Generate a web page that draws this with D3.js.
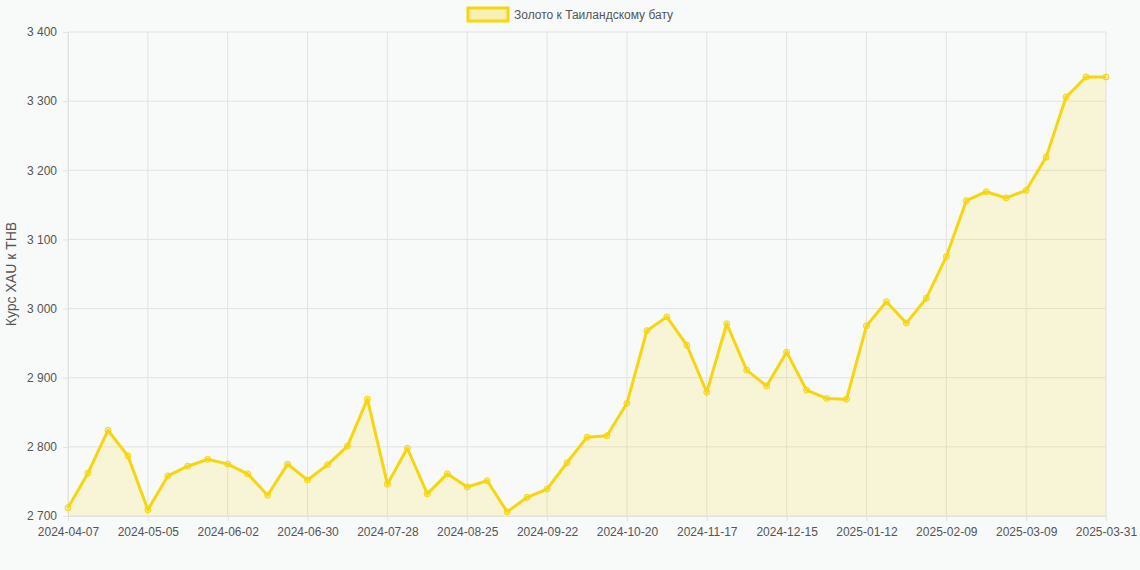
<!DOCTYPE html>
<html><head><meta charset="utf-8">
<script src="https://cdn.jsdelivr.net/npm/d3@7"></script>
<style>body{margin:0;background:#f8f9f9;font-family:"Liberation Sans",Arial,sans-serif}</style>
</head><body><svg width="1140" height="570"></svg>
<script>
// weekly dates (last point is 2025-03-31)
var dates = [];
var d0 = new Date(Date.UTC(2024, 3, 7));
for (var i = 0; i < 52; i++) dates.push(d3.utcFormat("%Y-%m-%d")(d3.utcDay.offset(d0, i * 7)));
dates.push("2025-03-31");

var values = [2712, 2762, 2824, 2787, 2709, 2758, 2772, 2782, 2775, 2761,
  2730, 2775, 2752, 2774, 2801, 2869, 2746, 2798, 2732, 2761,
  2742, 2751, 2706, 2727, 2739, 2777, 2814, 2816, 2863, 2968,
  2988, 2947, 2879, 2978, 2911, 2888, 2937, 2882, 2870, 2869,
  2975, 3010, 2979, 3015, 3075, 3156, 3169, 3160, 3171, 3219,
  3306, 3335, 3335];
var yTicks = [2700, 2800, 2900, 3000, 3100, 3200, 3300, 3400];
var seriesName = "Золото к Таиландскому бату";
var yTitle = "Курс XAU к THB";

var svg = d3.select("svg"),
    margin = {top: 32, right: 34, bottom: 54, left: 68},
    width = 1140 - margin.left - margin.right,
    height = 570 - margin.top - margin.bottom;

var x = d3.scalePoint().domain(dates).range([0, width]);
var y = d3.scaleLinear().domain([2700, 3400]).range([height, 0]);
var fmt = function(v) { return d3.format(",")(v).replace(",", " "); };

var g = svg.append("g").attr("transform", "translate(" + margin.left + "," + margin.top + ")");

var tickDates = dates.filter(function(d, i) { return i % 4 == 0 || i == dates.length - 1; });

// grid
g.append("g").selectAll("line").data(yTicks).enter().append("line")
  .attr("x1", 0).attr("x2", width).attr("y1", y).attr("y2", y)
  .attr("stroke", "#e2e2e2");
g.append("g").selectAll("line").data(tickDates).enter().append("line")
  .attr("y1", 0).attr("y2", height).attr("x1", x).attr("x2", x)
  .attr("stroke", "#e2e2e2");

var xAxis = g.append("g").attr("transform", "translate(0," + height + ")")
  .call(d3.axisBottom(x).tickValues(tickDates).tickSize(5).tickPadding(6));
var yAxis = g.append("g")
  .call(d3.axisLeft(y).tickValues(yTicks).tickFormat(fmt).tickSize(5).tickPadding(6));
[xAxis, yAxis].forEach(function(a) {
  a.select(".domain").attr("stroke", "#e2e2e2");
  a.selectAll(".tick line").attr("stroke", "#e2e2e2");
  a.selectAll("text").attr("fill", "#555").style("font-size", "12px")
   .style("font-family", "Liberation Sans, Arial, sans-serif");
});

var area = d3.area().x(function(d, i) { return x(dates[i]); })
  .y0(height).y1(function(d) { return y(d); });
var line = d3.line().x(function(d, i) { return x(dates[i]); })
  .y(function(d) { return y(d); });

g.append("path").datum(values).attr("d", area).attr("fill", "rgba(245,214,15,0.15)");
g.append("path").datum(values).attr("d", line).attr("fill", "none")
  .attr("stroke", "#f5d60f").attr("stroke-width", 3).attr("stroke-linejoin", "round");
g.selectAll(".pt").data(values).enter().append("circle")
  .attr("cx", function(d, i) { return x(dates[i]); }).attr("cy", y)
  .attr("r", 3).attr("fill", "rgba(245,214,15,0.3)").attr("stroke", "#f5d60f").attr("stroke-width", 1);

svg.append("text").attr("transform", "translate(16," + (margin.top + height / 2) + ") rotate(-90)")
  .attr("text-anchor", "middle").attr("fill", "#555").style("font-size", "14px").text(yTitle);

svg.append("rect").attr("x", 468).attr("y", 8).attr("width", 40).attr("height", 13)
  .attr("fill", "rgba(245,214,15,0.3)").attr("stroke", "#f5d60f").attr("stroke-width", 3);
svg.append("text").attr("x", 514).attr("y", 19).attr("fill", "#555").style("font-size", "12px").text(seriesName);
</script></body></html>
